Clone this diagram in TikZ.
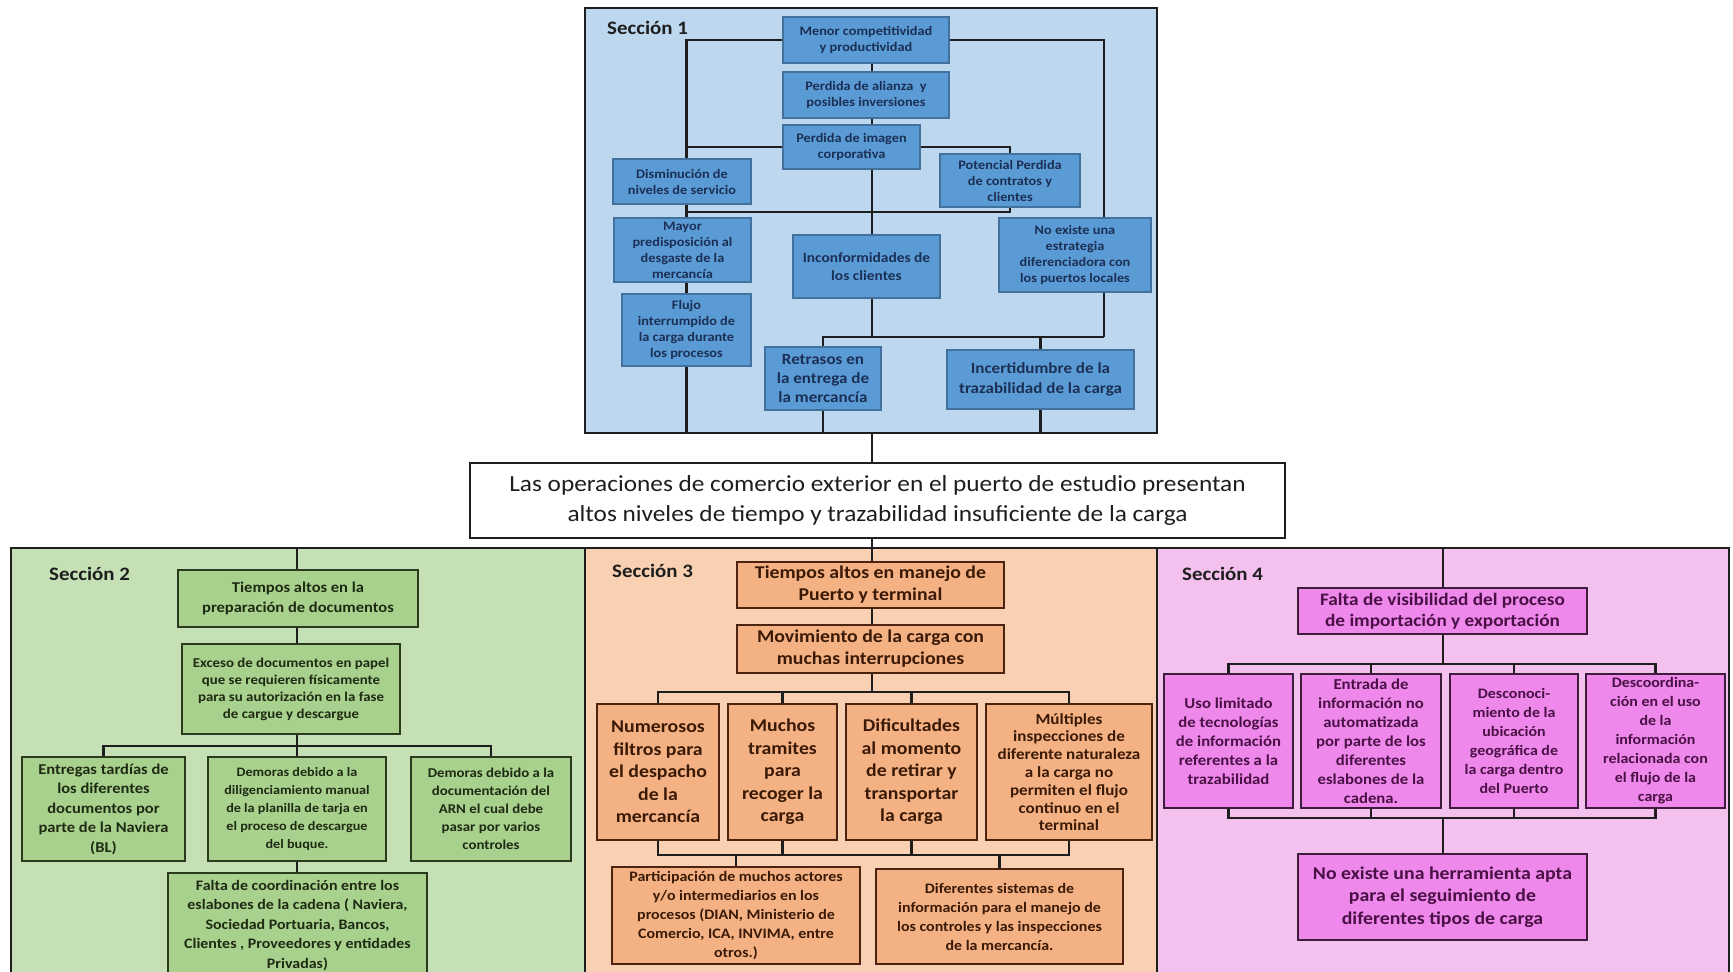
\documentclass[tikz,border=0pt]{standalone}
\usepackage{fontspec}
\setmainfont[FakeStretch=1.1]{Carlito}
\usetikzlibrary{calc}
\pgfdeclarelayer{secs}
\pgfdeclarelayer{links}
\pgfsetlayers{secs,links,main}

\definecolor{bgA}{HTML}{BDD7EE}
\definecolor{boxA}{HTML}{5B9BD5}
\definecolor{lineA}{HTML}{41719C}
\definecolor{txtA}{HTML}{1B2F55}
\definecolor{bgB}{HTML}{C5E0B4}
\definecolor{boxB}{HTML}{A9D18E}
\definecolor{lineB}{HTML}{2B3A1E}
\definecolor{txtB}{HTML}{1E2A12}
\definecolor{bgC}{HTML}{F9D0B2}
\definecolor{boxC}{HTML}{F4B183}
\definecolor{lineC}{HTML}{4A2410}
\definecolor{txtC}{HTML}{3A1A06}
\definecolor{bgD}{HTML}{F4C0EE}
\definecolor{boxD}{HTML}{EE88EA}
\definecolor{lineD}{HTML}{3E1C3C}
\definecolor{txtD}{HTML}{4A1046}
\definecolor{ink}{HTML}{1E1E1E}

\tikzset{
  sz/.style 2 args={minimum width=#1pt, minimum height=#2pt},
  fs/.style 2 args={font=\fontsize{#1}{#2}\selectfont\bfseries},
  section/.style={draw=ink, line width=2.5pt, inner sep=0pt},
  seclabel/.style={anchor=west, inner sep=0pt, text=ink, font=\fontsize{19}{22}\selectfont\bfseries},
  box/.style={draw, align=center, inner sep=0pt, line width=2.2pt},
  bA/.style={box, fill=boxA, draw=lineA, text=txtA, line width=1.6pt, fs={13}{16}},
  bB/.style={box, fill=boxB, draw=lineB, text=txtB, fs={13.5}{17}},
  bC/.style={box, fill=boxC, draw=lineC, text=txtC, fs={14.5}{19}},
  bD/.style={box, fill=boxD, draw=lineD, text=txtD, fs={14.5}{19}},
  link/.style={draw=ink, line width=2.4pt},
}

\begin{document}
\begin{tikzpicture}[x=1pt, y=-1pt]
\useasboundingbox (0,0) rectangle (1733,972);

% ---------------- section panels ----------------
\begin{pgfonlayer}{secs}
\fill[white] (0,0) rectangle (1733,972);
\node[section, fill=bgA, sz={572}{425}] (s1) at (871,220.5) {};
\node[section, fill=bgB, sz={574}{428}] (s2) at (298,762) {};
\node[section, fill=bgC, sz={572}{428}] (s3) at (871,762) {};
\node[section, fill=bgD, sz={572}{428}] (s4) at (1443,762) {};
\end{pgfonlayer}

\node[seclabel] (l1) at (607,28) {Sección 1};
\node[seclabel] (l2) at (49,574) {Sección 2};
\node[seclabel] (l3) at (612,571) {Sección 3};
\node[seclabel] (l4) at (1182,574) {Sección 4};

% ---------------- central problem ----------------
\node[draw=ink, fill=white, line width=2pt, sz={815}{75}, align=center, inner sep=0pt,
      text=ink, font=\fontsize{23}{30}\selectfont] (main) at (877.5,500.5)
  {Las operaciones de comercio exterior en el puerto de estudio presentan\\
   altos niveles de tiempo y trazabilidad insuficiente de la carga};

% ---------------- section 1: effects ----------------
\node[bA, sz={166}{46}] (m1) at (866,40) {Menor competitividad\\y productividad};
\node[bA, sz={166}{46}] (m2) at (866,95) {Perdida de alianza\ \ y\\posibles inversiones};
\node[bA, sz={137}{44}] (m3) at (851.5,147) {Perdida de imagen\\corporativa};
\node[bA, sz={138}{45}] (dis) at (682,181.5) {Disminución de\\niveles de servicio};
\node[bA, sz={140}{53}] (pot) at (1010,180.5) {Potencial Perdida\\de contratos y\\clientes};
\node[bA, sz={137}{64}] (may) at (682.5,250) {Mayor\\predisposición al\\desgaste de la\\mercancía};
\node[bA, sz={147}{63}, fs={14}{18}] (inc) at (866.5,266.5) {Inconformidades de\\los clientes};
\node[bA, sz={152}{74}] (noex) at (1075,255) {No existe una\\estrategia\\diferenciadora con\\los puertos locales};
\node[bA, sz={129}{72}] (flu) at (686.5,330) {Flujo\\interrumpido de\\la carga durante\\los procesos};
\node[bA, sz={116}{63}, fs={15.5}{19}] (ret) at (823,378.5) {Retrasos en\\la entrega de\\la mercancía};
\node[bA, sz={187}{59}, fs={15.5}{20}] (incer) at (1040.5,379.5) {Incertidumbre de la\\trazabilidad de la carga};

\coordinate (tk) at (872,0);
\coordinate (rt) at (1104,337);
\coordinate (hz) at (686,212);

\begin{pgfonlayer}{links}
\draw[link] (m1.west) -| (flu.north);
\draw[link] (m1.east) -| (rt);
\draw[link] (rt) -| (ret.north);
\draw[link] (incer.north) -- (incer.north |- rt);
\draw[link] (tk |- m1.south) -- (tk |- inc.north);
\draw[link] (tk |- inc.south) -- (tk |- rt);
\draw[link] (m3.west) -- (m3.west -| flu.north);
\draw[link] (m3.east) -| (pot.north);
\draw[link] (pot.south) |- (hz);
\draw[link] (flu.south) -- (flu.south |- s1.south);
\draw[link] (ret.south) -- (ret.south |- s1.south);
\draw[link] (incer.south) -- (incer.south |- s1.south);
\draw[link] (tk |- s1.south) -- (tk |- main.north);
\draw[link] (tk |- main.south) -- (tk |- s3.north);
\end{pgfonlayer}

% ---------------- section 2: documents ----------------
\node[bB, sz={240}{57}, fs={15}{19.5}] (t2) at (298,598.5) {Tiempos altos en la\\preparación de documentos};
\node[bB, sz={218}{90}] (ex) at (291,689) {Exceso de documentos en papel\\que se requieren físicamente\\para su autorización en la fase\\de cargue y descargue};
\node[bB, sz={163}{104}, fs={15}{19.5}] (en) at (103.5,809) {Entregas tardías de\\los diferentes\\documentos por\\parte de la Naviera\\(BL)};
\node[bB, sz={178}{104}, fs={12.9}{18}] (dem1) at (297,809) {Demoras debido a la\\diligenciamiento manual\\de la planilla de tarja en\\el proceso de descargue\\del buque.};
\node[bB, sz={160}{104}, fs={13.5}{18}] (dem2) at (491,809) {Demoras debido a la\\documentación del\\ARN el cual debe\\pasar por varios\\controles};
\node[bB, sz={259}{104}, fs={14.5}{19.5}] (falta) at (297.5,925) {Falta de coordinación entre los\\eslabones de la cadena ( Naviera,\\Sociedad Portuaria, Bancos,\\Clientes , Proveedores y entidades\\Privadas)};

\coordinate (b2) at (297,746);
\begin{pgfonlayer}{links}
\draw[link] (b2 |- s2.north) -- (b2 |- t2.north);
\draw[link] (b2 |- t2.south) -- (b2 |- ex.north);
\draw[link] (b2 |- ex.south) -- (b2);
\draw[link] (en.north) |- (b2) -| (dem2.north);
\draw[link] (dem1.north) -- (dem1.north |- b2);
\draw[link] (dem1.south) -- (dem1.south |- falta.north);
\end{pgfonlayer}

% ---------------- section 3: port and terminal ----------------
\node[bC, sz={267}{46}, fs={18}{22}] (t3) at (870.5,585) {Tiempos altos en manejo de\\Puerto y terminal};
\node[bC, sz={267}{48}, fs={18}{22}] (mov) at (870.5,649) {Movimiento de la carga con\\muchas interrupciones};
\node[bC, sz={122}{136}, fs={18}{22.5}] (num) at (658,772) {Numerosos\\filtros para\\el despacho\\de la\\mercancía};
\node[bC, sz={109}{136}, fs={18}{22.5}] (much) at (782.5,772) {Muchos\\tramites\\para\\recoger la\\carga};
\node[bC, sz={131}{136}, fs={18}{22.5}] (dif) at (911.5,772) {Dificultades\\al momento\\de retirar y\\transportar\\la carga};
\node[bC, sz={166}{136}, fs={15.5}{17.8}] (mul) at (1069,772) {Múltiples\\inspecciones de\\diferente naturaleza\\a la carga no\\permiten el flujo\\continuo en el\\terminal};
\node[bC, sz={248}{97}] (part) at (736,915.5) {Participación de muchos actores\\y/o intermediarios en los\\procesos (DIAN, Ministerio de\\Comercio, ICA, INVIMA, entre\\otros.)};
\node[bC, sz={247}{95}] (difs) at (999.5,916.5) {Diferentes sistemas de\\información para el manejo de\\los controles y las inspecciones\\de la mercancía.};

\coordinate (b3) at (872,692);
\coordinate (c3) at (872,855);
\begin{pgfonlayer}{links}
\draw[link] (tk |- s3.north) -- (tk |- t3.north);
\draw[link] (tk |- t3.south) -- (tk |- mov.north);
\draw[link] (tk |- mov.south) -- (b3);
\draw[link] (num.north) |- (b3) -| (mul.north);
\draw[link] (much.north) -- (much.north |- b3);
\draw[link] (dif.north) -- (dif.north |- b3);
\draw[link] (num.south) |- (c3) -| (mul.south);
\draw[link] (much.south) -- (much.south |- c3);
\draw[link] (dif.south) -- (dif.south |- c3);
\draw[link] (part.north) -- (part.north |- c3);
\draw[link] (difs.north) -- (difs.north |- c3);
\end{pgfonlayer}

% ---------------- section 4: visibility ----------------
\node[bD, sz={289}{46}, fs={17.5}{21}] (fv) at (1442.5,611) {Falta de visibilidad del proceso\\de importación y exportación};
\node[bD, sz={129}{134}, fs={15.2}{19}] (uso) at (1228.5,741) {Uso limitado\\de tecnologías\\de información\\referentes a la\\trazabilidad};
\node[bD, sz={140}{134}, fs={15.2}{19}] (ent) at (1371,741) {Entrada de\\información no\\automatizada\\por parte de los\\diferentes\\eslabones de la\\cadena.};
\node[bD, sz={128}{134}] (des) at (1514,741) {Desconoci-\\miento de la\\ubicación\\geográfica de\\la carga dentro\\del Puerto};
\node[bD, sz={139}{134}] (dco) at (1655.5,741) {Descoordina-\\ción en el uso\\de la\\información\\relacionada con\\el flujo de la\\carga};
\node[bD, sz={289}{86}, fs={18}{22.5}] (noh) at (1442.5,897) {No existe una herramienta apta\\para el seguimiento de\\diferentes tipos de carga};

\coordinate (b4) at (1443,664);
\coordinate (c4) at (1443,818);
\begin{pgfonlayer}{links}
\draw[link] (b4 |- s4.north) -- (b4 |- fv.north);
\draw[link] (b4 |- fv.south) -- (b4);
\draw[link] (uso.north) |- (b4) -| (dco.north);
\draw[link] (ent.north) -- (ent.north |- b4);
\draw[link] (des.north) -- (des.north |- b4);
\draw[link] (uso.south) |- (c4) -| (dco.south);
\draw[link] (ent.south) -- (ent.south |- c4);
\draw[link] (des.south) -- (des.south |- c4);
\draw[link] (c4) -- (c4 |- noh.north);
\end{pgfonlayer}
\end{tikzpicture}
\end{document}
